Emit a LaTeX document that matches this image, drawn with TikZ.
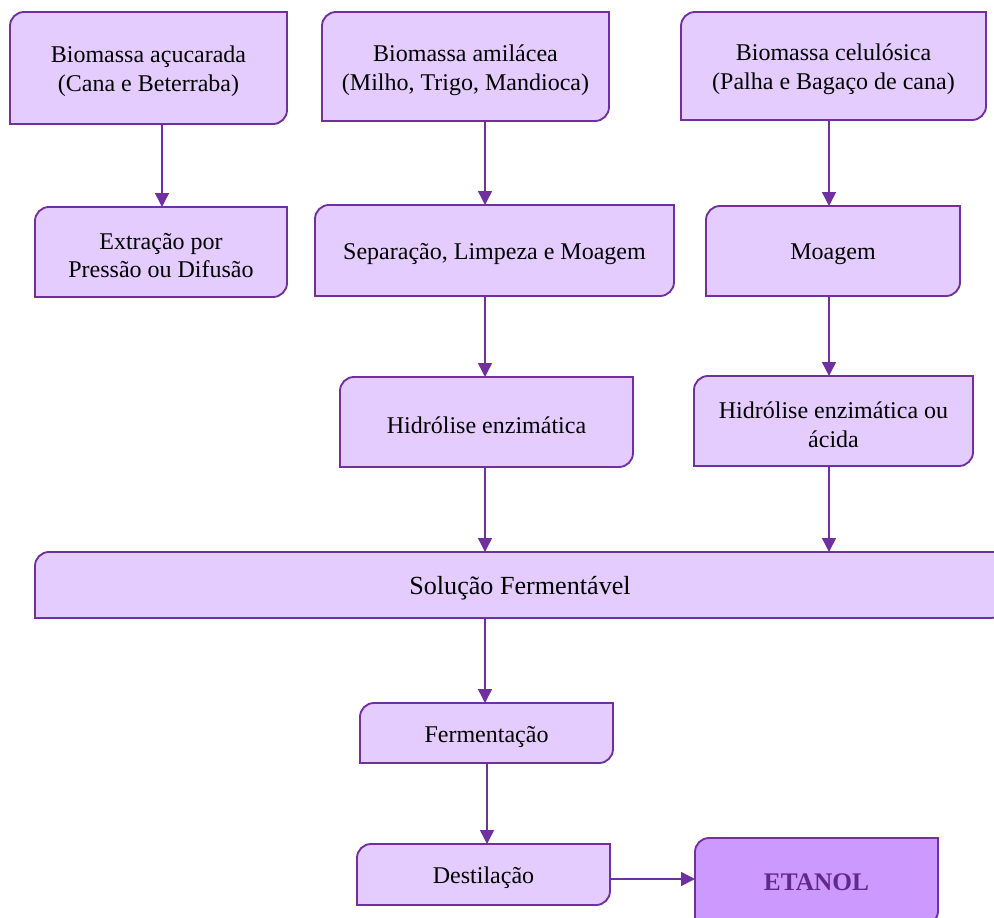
\documentclass[tikz,border=0pt]{standalone}
\usepackage{fontspec}
\setmainfont{Liberation Serif}
\usetikzlibrary{arrows.meta,backgrounds}

\definecolor{edgec}{HTML}{7030A0}
\definecolor{boxfill}{HTML}{E5CCFF}
\definecolor{endfill}{HTML}{CC99FF}
\definecolor{endtext}{HTML}{64288C}

\tikzset{
  boxshape/.style={inner sep=0pt, outer sep=0pt},
  boxtext/.style={inner sep=0pt, align=center, text=black, yshift=-2.6pt,
    font=\fontsize{18pt}{21.5pt}\selectfont},
  boxline/.style={draw=edgec, line width=1.4pt},
  arr/.style={draw=edgec, line width=1.1pt, -{Triangle[length=10.5pt,width=10.5pt]}},
}

% box node from its corner coordinates (x1,y1) to (x2,y2), text set as a centred label
\newcommand\flowbox[7][]{%
  \node[boxshape, minimum width={(#4-#2)*0.75pt}, minimum height={(#5-#3)*0.75pt},
        label={[boxtext, #1]center:{#7}}]
    (#6) at ({(#2+#4)/2},{(#3+#5)/2}) {};}

% outline with rounded top-left and bottom-right corners
\newcommand\boxedge[2]{%
  \path[boxline, fill=#2] (#1.south west)
    -- ([yshift=-10.5pt]#1.north west) arc[start angle=180, end angle=90, radius=10.5pt]
    -- (#1.north east)
    -- ([yshift=10.5pt]#1.south east) arc[start angle=0, end angle=-90, radius=10.5pt]
    -- cycle;}

\begin{document}
\begin{tikzpicture}[x=0.75pt, y=-0.75pt]
\useasboundingbox (0,0) rectangle (994,917);
\clip (0,0) rectangle (994,917);

\flowbox{10}{12}{287}{124}{b1}{Biomassa açucarada\\(Cana e Beterraba)}
\flowbox{322}{12}{609}{121}{b2}{Biomassa amilácea\\(Milho, Trigo, Mandioca)}
\flowbox{681}{12}{986}{120}{b3}{Biomassa celulósica\\(Palha e Bagaço de cana)}
\flowbox{35}{207}{287}{297}{b4}{Extração por\\Pressão ou Difusão}
\flowbox{315}{205}{674}{296}{b5}{Separação, Limpeza e Moagem}
\flowbox{706}{206}{960}{296}{b6}{Moagem}
\flowbox{340}{377}{633}{467}{b7}{Hidrólise enzimática}
\flowbox{694}{376}{973}{466}{b8}{Hidrólise enzimática ou\\ácida}
\flowbox[font=\fontsize{19.6pt}{23pt}\selectfont]{35}{552}{1005}{618}{b9}{Solução Fermentável}
\flowbox{360}{703}{613}{763}{b10}{Fermentação}
\flowbox{357}{844}{610}{905}{b11}{Destilação}
\flowbox[text=endtext, font=\fontsize{19pt}{23pt}\selectfont\bfseries, yshift=2.2pt]{695}{838}{938}{925}{b12}{ETANOL}

\begin{scope}[on background layer]
  \foreach \n in {b1,b2,b3,b4,b5,b6,b7,b8,b9,b10,b11} {\boxedge{\n}{boxfill}}
  \boxedge{b12}{endfill}
\end{scope}

% connector columns and row
\coordinate (cA) at (162,0);
\coordinate (cB) at (485,0);
\coordinate (cC) at (829,0);
\coordinate (cD) at (487,0);
\coordinate (rE) at (0,879);

\draw[arr] (b1.south -| cA) -- (b4.north -| cA);
\draw[arr] (b2.south -| cB) -- (b5.north -| cB);
\draw[arr] (b3.south -| cC) -- (b6.north -| cC);
\draw[arr] (b5.south -| cB) -- (b7.north -| cB);
\draw[arr] (b6.south -| cC) -- (b8.north -| cC);
\draw[arr] (b7.south -| cB) -- (b9.north -| cB);
\draw[arr] (b8.south -| cC) -- (b9.north -| cC);
\draw[arr] (b9.south -| cB) -- (b10.north -| cB);
\draw[arr] (b10.south -| cD) -- (b11.north -| cD);
\draw[arr] (b11.east |- rE) -- (b12.west |- rE);
\end{tikzpicture}
\end{document}
